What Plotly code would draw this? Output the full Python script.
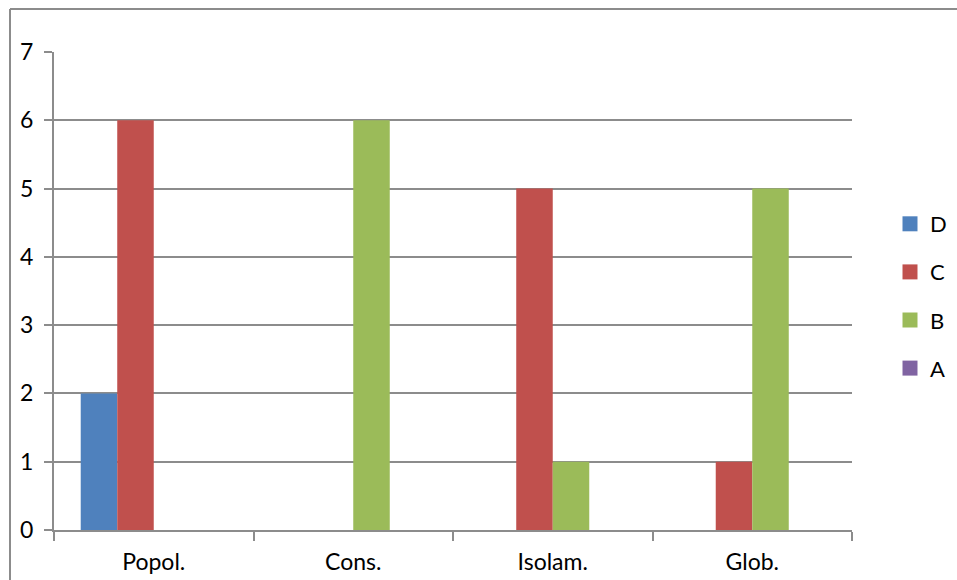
import plotly.graph_objects as go

categories = ["Popol.", "Cons.", "Isolam.", "Glob."]
series_names = ["D", "C", "B", "A"]
values_D = [2, 0, 0, 0]
values_C = [6, 0, 5, 1]
values_B = [0, 6, 1, 5]
values_A = [0, 0, 0, 0]
y_ticks = [0, 1, 2, 3, 4, 5, 6, 7]

colors = {"D": "#4F81BD", "C": "#C0504D", "B": "#9BBB59", "A": "#8064A2"}
series_values = {"D": values_D, "C": values_C, "B": values_B, "A": values_A}

W, H = 957, 580
L, R, T, B = 54, 852, 52, 530

fig = go.Figure()
for name in series_names:
    fig.add_trace(go.Bar(
        x=categories, y=series_values[name], name=name,
        legendgroup=name, showlegend=False,
        marker=dict(color=colors[name], line=dict(width=0)),
    ))
# legend entries with larger square swatches
for name in series_names:
    fig.add_trace(go.Scatter(
        x=[None], y=[None], mode="markers", name=name, legendgroup=name,
        marker=dict(symbol="square", size=15, color=colors[name]),
        showlegend=True, hoverinfo="skip",
    ))

grid = "#8c8c8c"
fig.update_layout(
    width=W, height=H,
    margin=dict(l=L, r=W - R, t=T, b=H - B, pad=0, autoexpand=False),
    plot_bgcolor="white", paper_bgcolor="white",
    barmode="group", bargap=0.268, bargroupgap=0,
    font=dict(family="Lato, 'Open Sans', sans-serif", size=23, color="#000000"),
    showlegend=True,
    legend=dict(
        x=(890 - L) / (R - L), xanchor="left",
        y=0.5 - 5 / (B - T), yanchor="middle",
        traceorder="grouped", tracegroupgap=16.5,
        font=dict(size=22), itemwidth=30,
        bgcolor="rgba(0,0,0,0)",
    ),
    xaxis=dict(
        type="category", showgrid=False, showline=True, linecolor=grid, linewidth=2,
        ticks="outside", tickson="boundaries", ticklen=9, tickcolor=grid, tickwidth=2,
        ticklabelstandoff=10,
    ),
    yaxis=dict(
        range=[0, 7], tickvals=y_ticks, showgrid=True, gridcolor=grid, gridwidth=2,
        showline=True, linecolor=grid, linewidth=2, zeroline=False,
        ticks="outside", ticklen=8, tickcolor=grid, tickwidth=2,
        ticklabelstandoff=6,
    ),
    shapes=[
        dict(type="line", xref="paper", yref="paper",
             x0=(10 - L) / (R - L), x1=(W + 5 - L) / (R - L),
             y0=(B - 9) / (B - T), y1=(B - 9) / (B - T),
             line=dict(color=grid, width=2)),
        dict(type="line", xref="paper", yref="paper",
             x0=(10 - L) / (R - L), x1=(10 - L) / (R - L),
             y0=(B - 9) / (B - T), y1=(B - H - 5) / (B - T),
             line=dict(color=grid, width=2)),
    ],
)

fig.write_html("out.html", config={"displayModeBar": False},
               post_script="document.body.style.margin='0';document.body.style.padding='0';")
